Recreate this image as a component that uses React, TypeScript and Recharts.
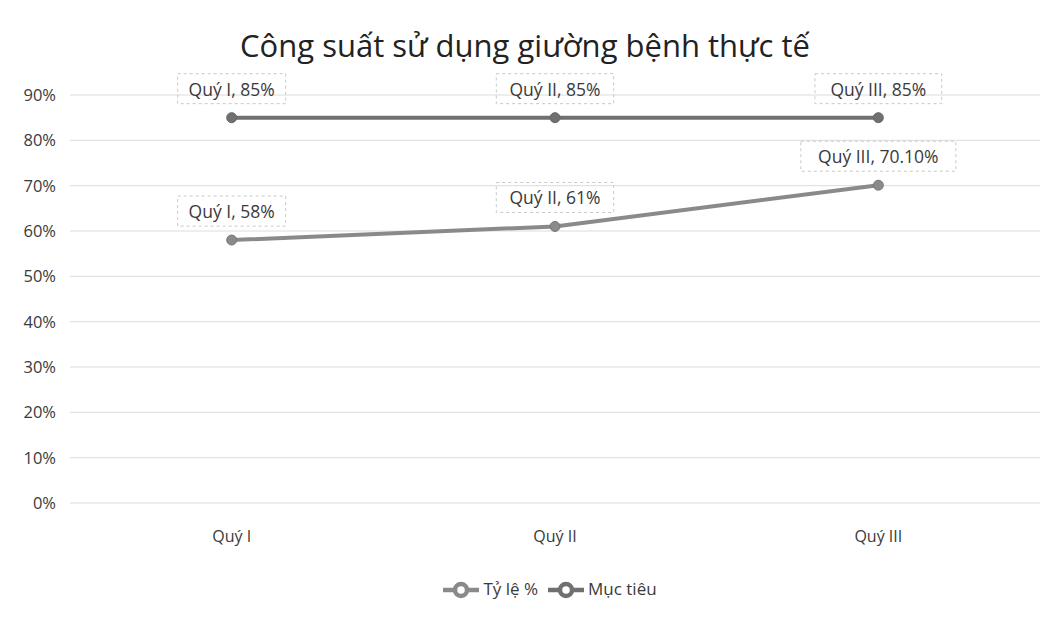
import React from 'react';
import { LineChart, Line, XAxis, YAxis, CartesianGrid, Legend } from 'recharts';

const quarters = ['Quý I', 'Quý II', 'Quý III'];
const actualRate = [58, 61, 70.1];
const targetRate = [85, 85, 85];
const yTicks = [0, 10, 20, 30, 40, 50, 60, 70, 80, 90];

const data = quarters.map((q, i) => ({ name: q, actual: actualRate[i], target: targetRate[i] }));

const FONT = '"Open Sans", "Noto Sans", sans-serif';
const TEXT = '#3a3a3a';

const fmtPct = (v: number) => (Number.isInteger(v) ? `${v}%` : `${v.toFixed(2)}%`);

const BoxLabel = (props: any) => {
  const { x, y, value, index } = props;
  const text = `${quarters[index]}, ${fmtPct(value)}`;
  const w = text.length * 9.4 + 14;
  const cy = y - 29;
  return (
    <g>
      <rect x={x - w / 2} y={cy - 15} width={w} height={30} fill="none" stroke="#c8c8c8" strokeDasharray="3 3" />
      <text x={x} y={cy} textAnchor="middle" dominantBaseline="central" fontSize={17.5} fill={TEXT} fontFamily={FONT}>
        {text}
      </text>
    </g>
  );
};

export default function App() {
  return (
    <div style={{ position: 'absolute', left: 0, top: 0, width: 1050, height: 621, background: '#fff', fontFamily: FONT }}>
      <div style={{ position: 'absolute', top: 24, left: 0, width: 1050, textAlign: 'center', fontSize: 31, fontWeight: 500, color: '#222' }}>
        Công suất sử dụng giường bệnh thực tế
      </div>
      <LineChart width={1050} height={621} data={data} margin={{ top: 95, right: 10, bottom: 88, left: 0 }}>
        <CartesianGrid vertical={false} stroke="#dcdcdc" />
        <XAxis
          dataKey="name"
          scale="band"
          axisLine={false}
          tickLine={false}
          tickSize={0}
          tickMargin={28}
          tick={{ fontSize: 16, fill: TEXT, fontFamily: FONT }}
        />
        <YAxis
          width={70}
          domain={[0, 90]}
          ticks={yTicks}
          tickFormatter={(v) => `${v}%`}
          axisLine={false}
          tickLine={false}
          tickSize={0}
          tickMargin={14}
          tick={{ fontSize: 16.5, fill: TEXT, fontFamily: FONT }}
        />
        <Legend
          layout="horizontal"
          verticalAlign="middle"
          align="center"
          iconSize={36}
          itemSorter="dataKey"
          wrapperStyle={{ position: 'absolute', top: 572, left: 30, width: 1050, fontSize: 17, fontFamily: FONT }}
          formatter={(value) => <span style={{ color: TEXT }}>{value}</span>}
        />
        <Line
          name="Tỷ lệ %"
          dataKey="actual"
          stroke="#8a8a8a"
          strokeWidth={4}
          dot={{ r: 5, fill: '#8a8a8a', stroke: '#777', strokeWidth: 1 }}
          label={<BoxLabel />}
          isAnimationActive={false}
        />
        <Line
          name="Mục tiêu"
          dataKey="target"
          stroke="#707070"
          strokeWidth={4}
          dot={{ r: 5, fill: '#707070', stroke: '#666', strokeWidth: 1 }}
          label={<BoxLabel />}
          isAnimationActive={false}
        />
      </LineChart>
    </div>
  );
}
